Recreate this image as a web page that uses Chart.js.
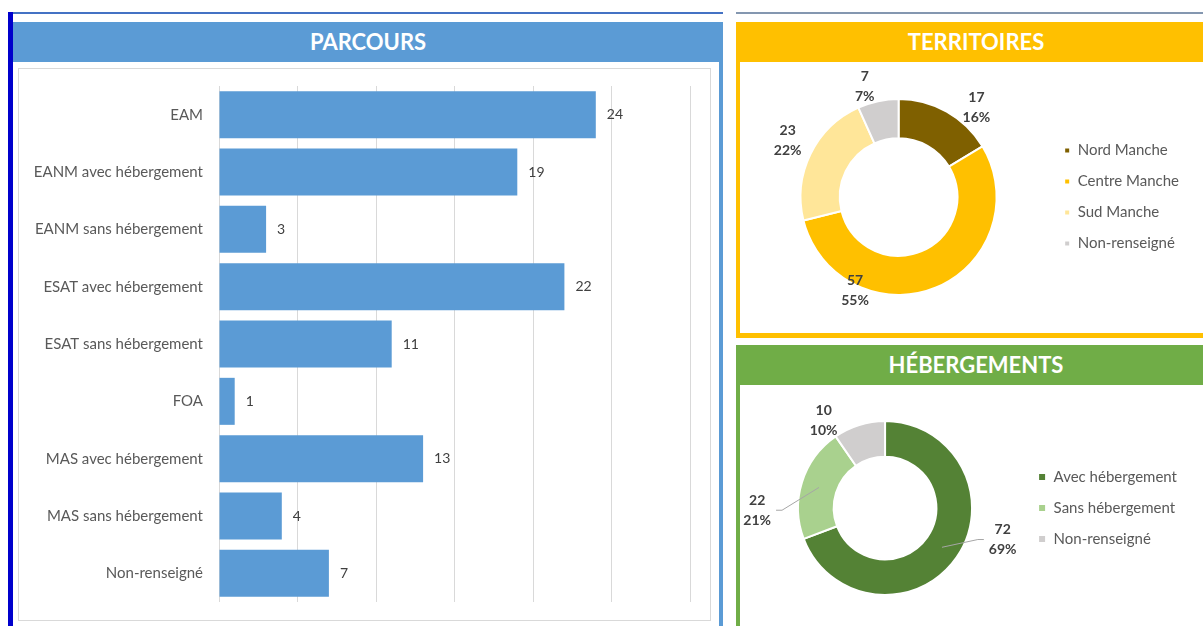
<!DOCTYPE html>
<html>
<head>
<meta charset="utf-8">
<script src="https://cdn.jsdelivr.net/npm/chart.js@4.4.0/dist/chart.umd.min.js"></script>
<style>
  body { margin: 0; width: 1203px; height: 626px; overflow: hidden; background: #fff; position: relative; font-family: Lato, sans-serif; }
  .abs { position: absolute; }
  .title { color: #fff; font-weight: bold; font-size: 22px; text-align: center; line-height: 40px; height: 40px; }
</style>
</head>
<body>
<!-- top rules and left bar -->
<div class="abs" style="left:8px;top:12px;width:715px;height:2px;background:#4472c4"></div>
<div class="abs" style="left:736px;top:12px;width:467px;height:2px;background:#8497b0"></div>

<!-- PARCOURS panel -->
<div class="abs" style="left:13px;top:22px;width:710px;height:620px;background:#5b9bd5"></div>
<div class="abs" style="left:13px;top:62px;width:706px;height:580px;background:#fff"></div>
<div class="abs title" style="left:13px;top:22px;width:710px">PARCOURS</div>
<div class="abs" style="left:18px;top:68px;width:691px;height:551px;border:1px solid #d9d9d9"></div>
<canvas id="parcours" class="abs" style="left:19px;top:69px" width="690" height="550"></canvas>
<div class="abs" style="left:8px;top:12px;width:5px;height:614px;background:#0000cc"></div>

<!-- TERRITOIRES panel -->
<div class="abs" style="left:736px;top:22px;width:480px;height:316px;background:#ffc000"></div>
<div class="abs" style="left:740px;top:62px;width:476px;height:271px;background:#fff"></div>
<div class="abs title" style="left:736px;top:22px;width:480px">TERRITOIRES</div>
<canvas id="territoires" class="abs" style="left:740px;top:62px" width="463" height="271"></canvas>

<!-- HEBERGEMENTS panel -->
<div class="abs" style="left:736px;top:345px;width:480px;height:300px;background:#70ad47"></div>
<div class="abs" style="left:740px;top:385px;width:476px;height:260px;background:#fff"></div>
<div class="abs title" style="left:736px;top:345px;width:480px">HÉBERGEMENTS</div>
<canvas id="hebergements" class="abs" style="left:740px;top:385px" width="463" height="241"></canvas>

<script>
// Parcours
const parcoursLabels = ['EAM', 'EANM avec hébergement', 'EANM sans hébergement', 'ESAT avec hébergement',
  'ESAT sans hébergement', 'FOA', 'MAS avec hébergement', 'MAS sans hébergement', 'Non-renseigné'];
const parcoursValues = [24, 19, 3, 22, 11, 1, 13, 4, 7];

// Territoires
const terrLabels = ['Nord Manche', 'Centre Manche', 'Sud Manche', 'Non-renseigné'];
const terrValues = [17, 57, 23, 7];
const terrColors = ['#7f6000', '#ffc000', '#ffe699', '#d0cece'];

// Hébergements
const hebLabels = ['Avec hébergement', 'Sans hébergement', 'Non-renseigné'];
const hebValues = [72, 22, 10];
const hebColors = ['#548235', '#a9d18e', '#d0cece'];

Chart.defaults.font.family = 'Lato, sans-serif';
Chart.defaults.animation = false;

// value label at the end of each bar
const barValueLabels = {
  id: 'barValueLabels',
  afterDatasetsDraw(chart) {
    const ctx = chart.ctx;
    const meta = chart.getDatasetMeta(0);
    const vals = chart.data.datasets[0].data;
    ctx.save();
    ctx.font = '14px Lato';
    ctx.fillStyle = '#404040';
    ctx.textBaseline = 'middle';
    meta.data.forEach((bar, i) => {
      ctx.fillText(String(vals[i]), bar.x + 11, bar.y);
    });
    ctx.restore();
  }
};

// "value / percent" labels around the doughnut, optional leader line
const donutLabels = {
  id: 'donutLabels',
  afterDatasetsDraw(chart, args, opts) {
    const ctx = chart.ctx;
    const meta = chart.getDatasetMeta(0);
    const data = chart.data.datasets[0].data;
    const total = data.reduce((a, b) => a + b, 0);
    ctx.save();
    ctx.font = 'bold 14px Lato';
    ctx.fillStyle = '#404040';
    ctx.textAlign = 'center';
    ctx.textBaseline = 'middle';
    meta.data.forEach((arc, i) => {
      const a = opts.angles[i] * Math.PI / 180;
      const r = arc.outerRadius * opts.dists[i];
      const x = arc.x + r * Math.sin(a);
      const y = arc.y - r * Math.cos(a);
      const pct = Math.round(data[i] / total * 100) + '%';
      ctx.fillText(String(data[i]), x, y - 10);
      ctx.fillText(pct, x, y + 10);
      if (opts.leaders[i]) {
        const mid = (arc.startAngle + arc.endAngle) / 2;
        const mr = (arc.innerRadius + arc.outerRadius) / 2;
        const tx = arc.x + mr * Math.cos(mid);
        const ty = arc.y + mr * Math.sin(mid);
        const w = ctx.measureText(pct).width / 2 + 5;
        const sx = tx > x ? x + w : x - w;
        const kx = tx > x ? sx + 6 : sx - 6;
        ctx.strokeStyle = '#a6a6a6';
        ctx.lineWidth = 1;
        ctx.beginPath();
        ctx.moveTo(sx, y);
        ctx.lineTo(kx, y);
        ctx.lineTo(tx, ty);
        ctx.stroke();
      }
    });
    ctx.restore();
  }
};

new Chart(document.getElementById('parcours'), {
  type: 'bar',
  data: {
    labels: parcoursLabels,
    datasets: [{
      data: parcoursValues,
      backgroundColor: '#5b9bd5',
      barPercentage: 0.82,
      categoryPercentage: 1
    }]
  },
  options: {
    indexAxis: 'y',
    responsive: false,
    layout: { padding: { top: 17, bottom: 5, right: 19, left: 0 } },
    scales: {
      x: {
        min: 0, max: 30,
        ticks: { display: false, stepSize: 5 },
        grid: { color: '#d9d9d9', drawTicks: false },
        border: { display: false }
      },
      y: {
        grid: { display: false },
        border: { display: false },
        ticks: { padding: 8, color: '#595959', font: { size: 15 } },
        afterFit: s => { s.width = 200; }
      }
    },
    plugins: { legend: { display: false }, tooltip: { enabled: false } }
  },
  plugins: [barValueLabels]
});

function donut(id, labels, values, colors, cutout, padding, boxSize, labelOpts) {
  return new Chart(document.getElementById(id), {
    type: 'doughnut',
    data: {
      labels: labels,
      datasets: [{
        data: values,
        backgroundColor: colors,
        borderColor: '#ffffff',
        borderWidth: 2,
        hoverOffset: 0
      }]
    },
    options: {
      responsive: false,
      cutout: cutout,
      layout: { padding: padding },
      plugins: {
        legend: {
          position: 'right',
          labels: {
            boxWidth: boxSize, boxHeight: boxSize,
            padding: 16,
            color: '#595959',
            font: { size: 15 }
          }
        },
        tooltip: { enabled: false },
        donutLabels: labelOpts
      }
    },
    plugins: [donutLabels]
  });
}

donut('territoires', terrLabels, terrValues, terrColors, '60%',
  { top: 36, bottom: 37, left: 9, right: 14 }, 6,
  { angles: [41, 205, 297, 343], dists: [1.21, 1.05, 1.27, 1.18], leaders: [false, false, false, false] });

donut('hebergements', hebLabels, hebValues, hebColors, '59%',
  { top: 35, bottom: 30, left: 8, right: 16 }, 8,
  { angles: [105, 269, 325], dists: [1.40, 1.47, 1.23], leaders: [true, true, false] });
</script>
</body>
</html>
